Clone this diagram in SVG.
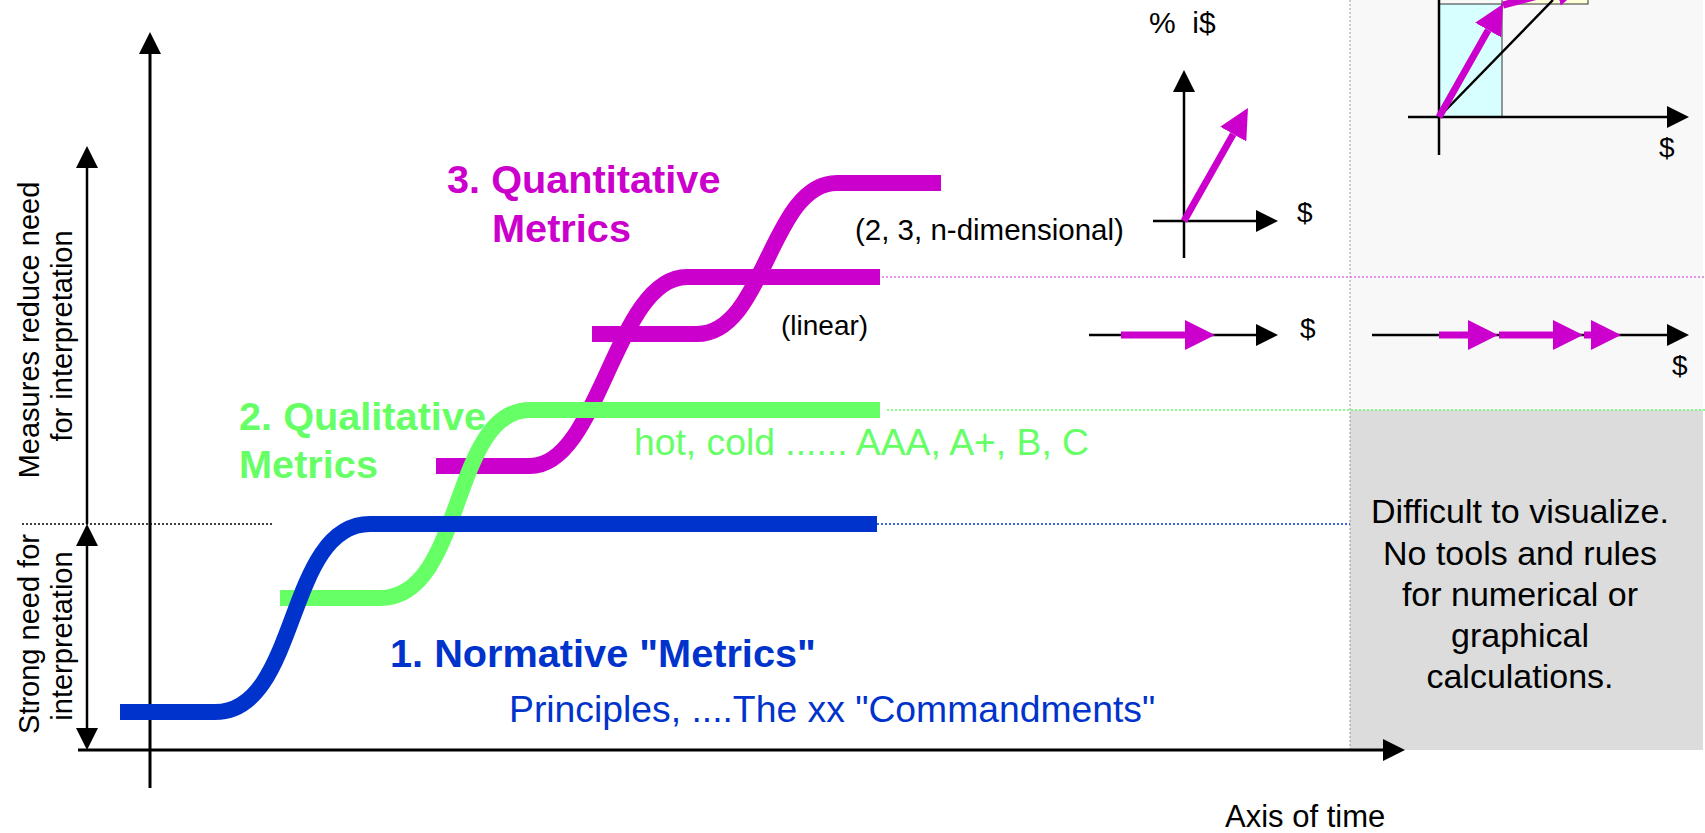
<svg xmlns="http://www.w3.org/2000/svg" width="1705" height="833" viewBox="0 0 1705 833">
<style>
text{font-family:"Liberation Sans",Arial,sans-serif}
.ax{stroke:#000;stroke-width:3;fill:none}
.ax2{stroke:#000;stroke-width:2.5;fill:none}
.crv{fill:none;stroke-width:16;stroke-linecap:butt}
.mg{stroke:#cc00cc}
.gr{stroke:#66ff66}
.bl{stroke:#0033cc}
.mv{stroke:#cc00cc;stroke-width:7;fill:none}
.tb{font-weight:bold;font-size:39.7px}
.t{font-size:37.3px}
.s{font-size:28px;fill:#000}
.v{font-size:29px;fill:#000;text-anchor:middle}
.g{font-size:34px;fill:#000;text-anchor:middle}
</style>
<defs>
<marker id="ak" viewBox="0 0 22 22" refX="0" refY="11" markerWidth="22" markerHeight="22" markerUnits="userSpaceOnUse" orient="auto-start-reverse"><path d="M0,0 L22,11 L0,22 z" fill="#000"/></marker>
<marker id="am" viewBox="0 0 30 30" refX="0" refY="15" markerWidth="30" markerHeight="30" markerUnits="userSpaceOnUse" orient="auto"><path d="M0,0 L30,15 L0,30 z" fill="#cc00cc"/></marker>
</defs>
<rect width="1705" height="833" fill="#fff"/>

<g id="panel-upper">
<rect x="1350" y="0" width="353" height="410" fill="#f8f8f8"/>
</g>
<g id="panel-lower">
<rect x="1350" y="410" width="353" height="340" fill="#dcdcdc"/>
<text class="g" x="1520" y="523">Difficult to visualize.</text>
<text class="g" x="1520" y="565">No tools and rules</text>
<text class="g" x="1520" y="606">for numerical or</text>
<text class="g" x="1520" y="647">graphical</text>
<text class="g" x="1520" y="688">calculations.</text>
</g>
<line x1="1350" y1="0" x2="1350" y2="750" stroke="#999" stroke-width="1" stroke-dasharray="2,2"/>

<g id="guides" fill="none" stroke-width="1.5" stroke-dasharray="2,2">
<line x1="22" y1="524" x2="274" y2="524" stroke="#000"/>
<line x1="877" y1="524" x2="1350" y2="524" stroke="#0033cc"/>
<line x1="887" y1="410" x2="1705" y2="410" stroke="#66ff66"/>
<line x1="882" y1="277" x2="1705" y2="277" stroke="#e070e0"/>
</g>

<g id="axes">
<line class="ax" x1="150" y1="788" x2="150" y2="54" marker-end="url(#ak)"/>
<line class="ax" x1="78" y1="750" x2="1383" y2="750" marker-end="url(#ak)"/>
<line class="ax2" x1="87" y1="524" x2="87" y2="168" marker-end="url(#ak)"/>
<line class="ax2" x1="87" y1="546" x2="87" y2="728" marker-start="url(#ak)" marker-end="url(#ak)"/>
</g>

<g id="axis-labels">
<text class="v" transform="translate(39,330) rotate(-90)">Measures reduce need</text>
<text class="v" transform="translate(72,336) rotate(-90)">for interpretation</text>
<text class="v" transform="translate(39,634) rotate(-90)">Strong need for</text>
<text class="v" transform="translate(72,636) rotate(-90)">interpretation</text>
<text x="1225" y="827" style="font-size:31px;fill:#000">Axis of time</text>
</g>

<g id="curve-quantitative">
<path class="crv mg" d="M436,466 H530 C600,466 615,277 687,277 H880"/>
<path class="crv mg" d="M592,334 H697 C765,334 770,183 837,183 H941"/>
<text class="tb" x="447" y="193" fill="#cc00cc">3. Quantitative</text>
<text class="tb" x="492" y="242" fill="#cc00cc">Metrics</text>
<text class="s" x="855" y="240" style="font-size:29.5px">(2, 3, n-dimensional)</text>
<text class="s" x="781" y="335">(linear)</text>
</g>

<g id="curve-qualitative">
<path class="crv gr" d="M280,598 H380 C465,598 450,410 530,410 H880"/>
<text class="tb" x="239" y="430" fill="#66ff66">2. Qualitative</text>
<text class="tb" x="239" y="478" fill="#66ff66">Metrics</text>
<text class="t" x="634" y="455" fill="#66ff66">hot, cold ...... AAA, A+, B, C</text>
</g>

<g id="curve-normative">
<path class="crv bl" d="M120,712 H215 C300,712 285,524 370,524 H877"/>
<text class="tb" x="390" y="667" fill="#0033cc">1. Normative "Metrics"</text>
<text class="t" x="509" y="722" fill="#0033cc">Principles, ....The xx "Commandments"</text>
</g>

<g id="vector-2d">
<text class="s" x="1149" y="33" xml:space="preserve" style="font-size:30px">%  i$</text>
<line class="ax2" x1="1184" y1="258" x2="1184" y2="92" marker-end="url(#ak)"/>
<line class="ax2" x1="1153" y1="221" x2="1256" y2="221" marker-end="url(#ak)"/>
<line class="mv" x1="1184" y1="221" x2="1233.2" y2="134.1" marker-end="url(#am)"/>
<text class="s" x="1297" y="222">$</text>
</g>

<g id="vector-linear">
<line class="ax2" x1="1089" y1="335" x2="1256" y2="335" marker-end="url(#ak)"/>
<line class="mv" x1="1121" y1="335" x2="1185" y2="335" marker-end="url(#am)"/>
<text class="s" x="1300" y="338">$</text>
</g>

<g id="vector-sum">
<rect x="1439" y="4" width="63" height="113" fill="#d8ffff" stroke="#333" stroke-width="1"/>
<rect x="1502" y="-4" width="86" height="8" fill="#ffffd8" stroke="#333" stroke-width="1"/>
<line class="ax2" x1="1439" y1="0" x2="1439" y2="155"/>
<line class="ax2" x1="1408" y1="117" x2="1667" y2="117" marker-end="url(#ak)"/>
<line class="ax2" x1="1439" y1="117" x2="1553" y2="0"/>
<line class="mv" x1="1439" y1="117" x2="1488.2" y2="30.1" marker-end="url(#am)"/>
<line class="mv" x1="1503" y1="5" x2="1557" y2="-9" marker-end="url(#am)"/>
<text class="s" x="1659" y="157">$</text>
</g>

<g id="vector-chain">
<line class="ax2" x1="1372" y1="335" x2="1667" y2="335" marker-end="url(#ak)"/>
<line class="mv" x1="1439" y1="335" x2="1468" y2="335" marker-end="url(#am)"/>
<line class="mv" x1="1499" y1="335" x2="1553" y2="335" marker-end="url(#am)"/>
<line class="mv" x1="1584" y1="335" x2="1591" y2="335" marker-end="url(#am)"/>
<text class="s" x="1672" y="375">$</text>
</g>
</svg>
